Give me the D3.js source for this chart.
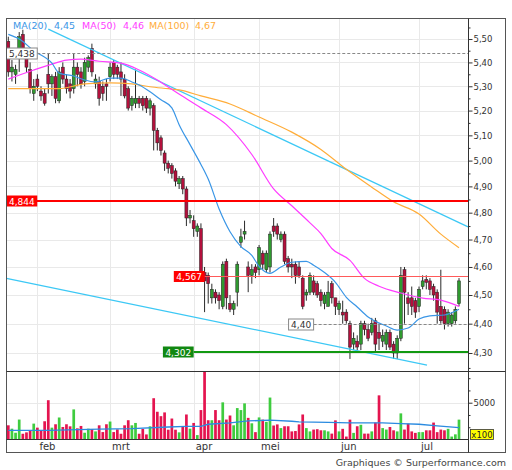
<!DOCTYPE html>
<html><head><meta charset="utf-8">
<script src="https://cdn.jsdelivr.net/npm/d3@7"></script>
<style>html,body{margin:0;padding:0;background:#fff}svg{display:block}text{font-family:"DejaVu Sans",Verdana,sans-serif}</style>
</head><body><svg id="c" width="512" height="470"></svg>
<script>
// ---------- DATA ----------
const open = [
5.49,5.36,5.35,5.45,5.52,5.44,5.37,5.27,5.33,5.28,
5.27,5.35,5.31,5.34,5.24,5.38,5.33,5.31,5.29,5.38,
5.36,5.32,5.38,5.46,5.31,5.32,5.30,5.31,5.34,5.40,
5.38,5.36,5.33,5.29,5.22,5.23,5.25,5.25,5.25,5.21,
5.22,5.12,5.09,5.03,4.99,4.98,4.96,4.91,4.93,4.89,
4.78,4.77,4.73,4.74,4.58,4.57,4.49,4.51,4.50,4.46,
4.62,4.47,4.45,4.51,4.69,4.72,4.60,4.57,4.60,4.59,
4.65,4.59,4.60,4.75,4.75,4.70,4.72,4.63,4.61,4.61,
4.60,4.56,4.50,4.51,4.55,4.54,4.51,4.47,4.46,4.54,
4.49,4.45,4.44,4.44,4.40,4.33,4.34,4.33,4.40,4.38,
4.37,4.41,4.37,4.34,4.33,4.37,4.33,4.30,4.35,4.59,
4.49,4.49,4.48,4.46,4.53,4.555,4.55,4.53,4.51,4.46,
4.45,4.40,4.40,4.41,4.47];
const high = [
5.51,5.41,5.39,5.53,5.54,5.46,5.40,5.33,5.35,5.30,
5.29,5.44,5.35,5.36,5.38,5.40,5.35,5.33,5.44,5.40,
5.38,5.42,5.43,5.48,5.35,5.34,5.32,5.33,5.40,5.41,
5.39,5.40,5.35,5.30,5.26,5.37,5.26,5.26,5.26,5.25,
5.23,5.13,5.10,5.04,5.00,4.99,4.97,4.94,4.94,4.90,
4.81,4.79,4.76,4.76,4.60,4.58,4.54,4.52,4.51,4.62,
4.63,4.50,4.48,4.62,4.74,4.77,4.62,4.61,4.61,4.68,
4.66,4.66,4.73,4.78,4.76,4.73,4.73,4.64,4.63,4.62,
4.62,4.57,4.52,4.58,4.57,4.55,4.52,4.51,4.55,4.55,
4.49,4.48,4.48,4.45,4.41,4.37,4.36,4.41,4.41,4.40,
4.42,4.42,4.40,4.38,4.38,4.38,4.34,4.36,4.60,4.60,
4.51,4.53,4.49,4.53,4.57,4.57,4.56,4.54,4.52,4.59,
4.46,4.45,4.44,4.46,4.56];
const low = [
5.34,5.32,5.31,5.36,5.43,5.36,5.27,5.24,5.28,5.24,
5.22,5.27,5.26,5.23,5.23,5.31,5.27,5.25,5.27,5.30,
5.29,5.30,5.36,5.34,5.29,5.22,5.24,5.24,5.32,5.33,
5.33,5.26,5.25,5.20,5.20,5.21,5.21,5.20,5.19,5.18,
5.04,5.04,5.02,4.96,4.95,4.93,4.90,4.89,4.87,4.75,
4.76,4.71,4.71,4.56,4.44,4.47,4.47,4.47,4.45,4.45,
4.45,4.44,4.43,4.46,4.67,4.70,4.51,4.54,4.56,4.57,
4.59,4.58,4.58,4.71,4.70,4.69,4.61,4.58,4.56,4.54,
4.56,4.45,4.48,4.50,4.50,4.49,4.46,4.45,4.46,4.47,
4.43,4.43,4.40,4.40,4.28,4.31,4.31,4.31,4.36,4.34,
4.36,4.30,4.31,4.32,4.31,4.31,4.28,4.28,4.34,4.40,
4.43,4.43,4.42,4.44,4.52,4.52,4.50,4.48,4.40,4.40,
4.38,4.39,4.39,4.40,4.46];
const close = [
5.36,5.38,5.37,5.51,5.46,5.38,5.29,5.30,5.30,5.26,
5.23,5.31,5.34,5.25,5.36,5.33,5.29,5.28,5.38,5.35,
5.31,5.40,5.42,5.36,5.33,5.25,5.27,5.30,5.38,5.35,
5.35,5.33,5.26,5.21,5.25,5.25,5.23,5.22,5.21,5.24,
5.12,5.07,5.04,4.99,4.97,4.95,4.92,4.93,4.89,4.78,
4.79,4.74,4.75,4.57,4.55,4.54,4.52,4.49,4.48,4.61,
4.49,4.45,4.47,4.61,4.71,4.73,4.57,4.59,4.58,4.67,
4.61,4.65,4.72,4.73,4.72,4.72,4.62,4.60,4.60,4.57,
4.57,4.46,4.51,4.57,4.51,4.50,4.48,4.50,4.51,4.49,
4.46,4.47,4.43,4.41,4.32,4.35,4.32,4.40,4.38,4.35,
4.40,4.33,4.35,4.36,4.37,4.32,4.30,4.35,4.57,4.51,
4.47,4.46,4.44,4.52,4.55,4.545,4.52,4.50,4.44,4.41,
4.40,4.44,4.43,4.45,4.55];
// volume in units of 100 shares
const volume = [
1930,1470,920,2710,780,970,1200,2160,1610,1240,
2480,5340,1610,2070,2990,1700,2070,1790,4090,1520,
1840,920,1470,1430,1100,1930,1010,2070,2440,1010,
1380,780,1930,2620,1930,2250,780,1430,690,1790,
5610,3770,3170,3680,1330,2850,1330,970,1790,3400,
1470,2250,600,4000,9300,2620,2620,4000,2620,5050,
2710,3260,1930,4270,4000,4910,2940,2200,1000,3000,
2700,2400,5700,1900,2050,1550,1800,1800,1100,1150,
2050,3400,1550,1100,1350,1400,1250,1250,1100,800,
2600,1100,1450,400,2700,900,1800,2000,800,800,
1100,2300,6000,1550,1350,1700,1250,1100,3550,1350,
2150,1100,900,1000,1000,1250,1250,2300,1000,1350,
1250,1450,400,700,2700];

// moving averages (trading-day index, value)
const ma20Idx = [0,3,7,12,14,18,21,24,28,31,34,36,39,42,45,47,50,53,55,58,61,64,67,69,72,75,78,82,84,87,90,93,96,99,104,107,110,113,116,120,124];
const ma20Val = [5.52,5.50,5.45,5.397,5.355,5.343,5.326,5.318,5.334,5.334,5.318,5.305,5.277,5.244,5.211,5.143,5.063,4.985,4.928,4.814,4.729,4.674,4.642,4.602,4.577,4.600,4.617,4.620,4.606,4.580,4.545,4.492,4.458,4.423,4.392,4.378,4.385,4.416,4.427,4.43,4.45];
const ma50Idx = [0,7,12,16,20,25,31,36,41,46,53,60,67,73,78,83,86,89,94,98,102,108,114,119,124];
const ma50Val = [5.33,5.368,5.393,5.41,5.414,5.405,5.397,5.368,5.326,5.277,5.211,5.143,5.024,4.89,4.826,4.762,4.722,4.667,4.624,4.559,4.531,4.507,4.489,4.482,4.46];
const ma100Idx = [0,14,21,28,34,39,44,47,53,61,69,78,86,93,100,106,113,119,124];
const ma100Val = [5.29,5.29,5.31,5.314,5.31,5.298,5.29,5.285,5.26,5.227,5.174,5.113,5.044,4.966,4.897,4.841,4.795,4.72,4.67];
const volMaIdx = [0,11,25,34,44,49,53,55,61,66,72,78,80,88,94,103,108,113,118,124];
const volMaVal = [1240,1240,1420,1470,1700,1790,1790,2070,2250,2520,2620,2480,2390,2340,2250,2250,2160,2070,1840,1610];

// trend lines (index, value) endpoints
const trendUpIdx = [11,126.5];
const trendUpVal = [5.543,4.747];
const trendDnIdx = [-0.5,115.2];
const trendDnVal = [4.559,4.2595];

// horizontal levels
const levelVal  = [5.438, 4.844, 4.567, 4.302, 4.40];
const levelFrom = [null, null, 54, 51, 84];

// axis
const monthLabels = ["feb","mrt","apr","mei","jun","jul"];
const monthStart  = [8,28,51,69,91,113];
const priceTicks  = [4.3,4.4,4.5,4.6,4.7,4.8,4.9,5.0,5.1,5.2,5.3,5.4,5.5];
const priceMinor  = [4.25,4.35,4.45,4.55,4.65,4.75,4.85,4.95,5.05,5.15,5.25,5.35,5.45,5.55];
const volTicks    = [5000];
const volMinor    = [1667,3333,6667,8333];
const legendNames = ["MA(20)","MA(50)","MA(100)"];
const legendVals  = [4.45,4.46,4.67];

// ---------- LAYOUT ----------
const L=6.5, R=468.5, OR=505.5, T=18.5, MB=371.5, VB=439.5, DB=452.5;
const N = close.length;
const svg = d3.select("#c");
const loc = d3.formatLocale({decimal:",",thousands:".",grouping:[3],currency:["€",""]});
const f2 = loc.format(".2f"), f3 = loc.format(".3f");

const x = d3.scaleLinear().domain([0,N-1]).range([8.3,459]);
const y = d3.scaleLog().domain([4.2381,5.5892]).range([MB,T]);
const yv = d3.scaleLinear().domain([0,9240]).range([VB,MB]);

const C = {red:"#b3103c", green:"#2f9a2f", vred:"#e4144f", vgreen:"#3fcc3f",
  ma20:"#3a96e6", ma50:"#ff3cff", ma100:"#ffad3a", trend:"#3cc8f5", grid:"#e9e9e9"};

const defs = svg.append("defs");
defs.append("clipPath").attr("id","cpMain").append("rect").attr("x",L).attr("y",T).attr("width",R-L).attr("height",MB-T);
defs.append("clipPath").attr("id","cpVol").append("rect").attr("x",L).attr("y",MB).attr("width",R-L).attr("height",VB-MB);

// grid
const g = svg.append("g");
g.selectAll(".hg").data(priceTicks).join("line")
  .attr("x1",L).attr("x2",R).attr("y1",d=>Math.round(y(d))+0.5).attr("y2",d=>Math.round(y(d))+0.5)
  .attr("stroke",C.grid).attr("stroke-width",1);
g.selectAll(".vg").data(monthStart).join("line")
  .attr("x1",d=>Math.round(x(d))+0.5).attr("x2",d=>Math.round(x(d))+0.5).attr("y1",T).attr("y2",VB)
  .attr("stroke",C.grid).attr("stroke-width",1);
g.selectAll(".vgv").data(volTicks).join("line")
  .attr("x1",L).attr("x2",R).attr("y1",d=>Math.round(yv(d))+0.5).attr("y2",d=>Math.round(yv(d))+0.5)
  .attr("stroke",C.grid);

const main = svg.append("g").attr("clip-path","url(#cpMain)");
const idx = d3.range(N);

// candles
const up = i => close[i] >= open[i];
main.selectAll(".wick").data(idx).join("line")
  .attr("x1",i=>x(i)).attr("x2",i=>x(i)).attr("y1",i=>y(high[i])).attr("y2",i=>y(low[i]))
  .attr("stroke","#2a2a2a").attr("stroke-width",1);
main.selectAll(".body").data(idx).join("rect")
  .attr("x",i=>x(i)-1.5).attr("width",3)
  .attr("y",i=>y(Math.max(open[i],close[i])))
  .attr("height",i=>Math.max(1,Math.abs(y(open[i])-y(close[i]))))
  .attr("fill",i=>up(i)?C.green:C.red).attr("stroke","#222").attr("stroke-width",0.5);

// trend lines
const lineIV = d3.line().x(d=>x(d[0])).y(d=>y(d[1]));
main.append("path").datum(trendUpIdx.map((d,k)=>[d,trendUpVal[k]])).attr("d",lineIV)
  .attr("fill","none").attr("stroke",C.trend).attr("stroke-width",1.2);
main.append("path").datum(trendDnIdx.map((d,k)=>[d,trendDnVal[k]])).attr("d",lineIV)
  .attr("fill","none").attr("stroke",C.trend).attr("stroke-width",1.2);

// moving averages
const lineMA = d3.line().x(d=>x(d[0])).y(d=>y(d[1])).curve(d3.curveMonotoneX);
[[ma100Idx,ma100Val,C.ma100],[ma50Idx,ma50Val,C.ma50],[ma20Idx,ma20Val,C.ma20]].forEach(([I,V,col])=>{
  main.append("path").datum(I.map((d,k)=>[d,V[k]])).attr("d",lineMA)
    .attr("fill","none").attr("stroke",col).attr("stroke-width",1.2);
});

// horizontal levels
const lvStyle = [
  {stroke:"#888",w:1,dash:"3,2",box:"#fff",boxStroke:"#888",txt:"#333",fmt:f3},
  {stroke:"#ff0000",w:2,dash:null,box:"#ff0000",boxStroke:"none",txt:"#fff",fmt:f3},
  {stroke:"#ff5a5a",w:1,dash:null,box:"#ff0000",boxStroke:"none",txt:"#fff",fmt:f3},
  {stroke:"#119911",w:2,dash:null,box:"#118811",boxStroke:"none",txt:"#fff",fmt:f3},
  {stroke:"#888",w:1,dash:"3,2",box:"#fff",boxStroke:"#888",txt:"#333",fmt:f2}
];
const lab = svg.append("g");
levelVal.forEach((v,k)=>{
  const s = lvStyle[k];
  const yy = Math.round(y(v))+ (s.w===2?0:0.5);
  const t = lab.append("text").text(s.fmt(v)).attr("font-size",9).attr("fill",s.txt)
     .attr("text-anchor","middle").attr("dominant-baseline","central");
  const tw = t.node().getComputedTextLength();
  const bw = tw+5, bh = 11;
  let bx, x1;
  if(levelFrom[k]===null){ bx = L; x1 = (s.dash? L+bw : L); }
  else { x1 = x(levelFrom[k]); bx = x1-bw; }
  const ln = main.append("line").attr("x1",x1).attr("x2",R).attr("y1",yy).attr("y2",yy)
    .attr("stroke",s.stroke).attr("stroke-width",s.w);
  if(s.dash) ln.attr("stroke-dasharray",s.dash);
  lab.insert("rect","text").attr("x",bx).attr("y",yy-bh/2).attr("width",bw).attr("height",bh)
    .attr("fill",s.box).attr("stroke",s.boxStroke).attr("stroke-width",1);
  t.attr("x",bx+bw/2).attr("y",yy+0.5);
  lab.node().appendChild(t.node());
});

// legend
const legX = [[13,54],[82,123],[149,195]];
const legC = [C.ma20,C.ma50,C.ma100];
legendNames.forEach((n,k)=>{
  svg.append("text").attr("x",legX[k][0]).attr("y",29).attr("font-size",9.5).attr("fill",legC[k]).text(n);
  svg.append("text").attr("x",legX[k][1]).attr("y",29).attr("font-size",9.5).attr("fill",legC[k]).text(f2(legendVals[k]));
});

// volume
const vol = svg.append("g").attr("clip-path","url(#cpVol)");
vol.selectAll(".vb").data(idx).join("rect")
  .attr("x",i=>x(i)-1.35).attr("width",2.7)
  .attr("y",i=>yv(volume[i])).attr("height",i=>VB-yv(volume[i]))
  .attr("fill",i=>up(i)?C.vgreen:C.vred);
vol.append("path").datum(volMaIdx.map((d,k)=>[d,volMaVal[k]]))
  .attr("d",d3.line().x(d=>x(d[0])).y(d=>yv(d[1])))
  .attr("fill","none").attr("stroke","#2b8be0").attr("stroke-width",1.3);

// frame
const fr = svg.append("g").attr("stroke","#333").attr("fill","none");
fr.append("rect").attr("x",L).attr("y",T).attr("width",OR-L).attr("height",DB-T).attr("stroke","#555");
fr.append("line").attr("x1",R).attr("x2",R).attr("y1",T).attr("y2",DB);
fr.append("line").attr("x1",L).attr("x2",OR).attr("y1",MB).attr("y2",MB);
fr.append("line").attr("x1",L).attr("x2",R).attr("y1",VB).attr("y2",VB);

// axes
function styleAxis(sel){ sel.select(".domain").remove(); sel.selectAll("line").attr("stroke","#333");
  sel.selectAll("text").attr("font-family","DejaVu Sans").attr("fill","#333"); }
svg.append("g").attr("transform",`translate(${R},0)`)
  .call(d3.axisRight(y).tickValues(priceTicks).tickSize(4).tickPadding(1).tickFormat(f2))
  .call(styleAxis).selectAll("text").attr("font-size",8.5);
svg.append("g").attr("transform",`translate(${R},0)`)
  .call(d3.axisRight(y).tickValues(priceMinor.filter(v=>y(v)>T&&y(v)<MB)).tickSize(2).tickFormat(""))
  .call(styleAxis);
svg.append("g").attr("transform",`translate(${R},0)`)
  .call(d3.axisRight(yv).tickValues(volTicks).tickSize(4).tickPadding(1).tickFormat(d3.format("d")))
  .call(styleAxis).selectAll("text").attr("font-size",8.5);
svg.append("g").attr("transform",`translate(${R},0)`)
  .call(d3.axisRight(yv).tickValues(volMinor).tickSize(2).tickFormat(""))
  .call(styleAxis);

// x100 tag
svg.append("rect").attr("x",470.5).attr("y",429.5).attr("width",23).attr("height",10)
  .attr("fill","#ffff00").attr("stroke","#333").attr("stroke-width",0.8);
svg.append("text").attr("x",482).attr("y",437.5).attr("text-anchor","middle").attr("font-size",8.5).attr("fill","#222").text("x100");

// month labels
svg.selectAll(".ml").data(monthLabels).join("text")
  .attr("x",(d,k)=>x(monthStart[k])+2).attr("y",449.5).attr("font-size",10).attr("fill","#333").text(d=>d);

// credit
svg.append("text").attr("x",506).attr("y",466).attr("text-anchor","end").attr("font-size",9.5).attr("fill","#444")
  .text("Graphiques © Surperformance.com");
</script></body></html>
